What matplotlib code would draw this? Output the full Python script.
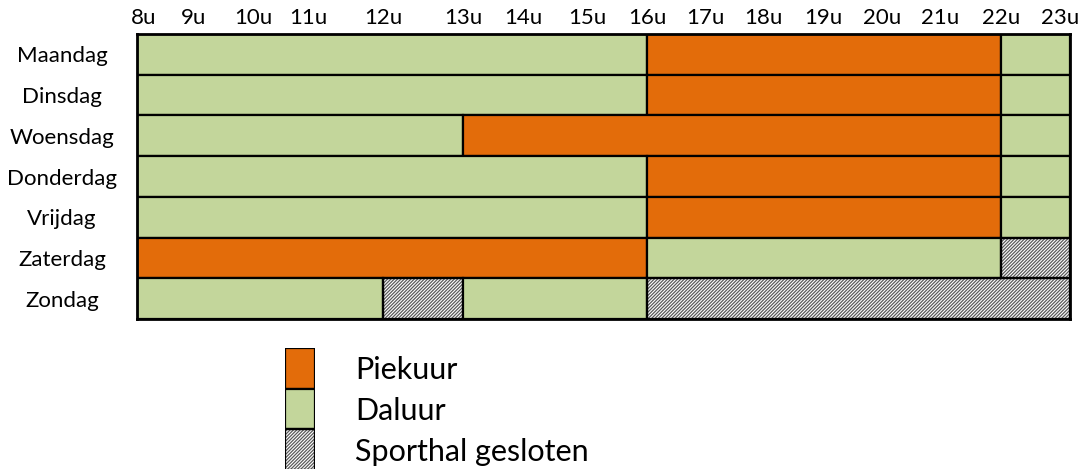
import numpy as np
import matplotlib
matplotlib.use("Agg")
import matplotlib.pyplot as plt
from matplotlib.scale import FuncScale
from matplotlib.transforms import ScaledTranslation

# ---------------- data ----------------
days = ["Maandag", "Dinsdag", "Woensdag", "Donderdag", "Vrijdag", "Zaterdag", "Zondag"]
hour_labels = ["8u", "9u", "10u", "11u", "12u", "13u", "14u", "15u",
               "16u", "17u", "18u", "19u", "20u", "21u", "22u", "23u"]
hours = list(range(8, 24))

# segments: day index, start hour, end hour, type
seg_day   = [0, 0, 0,   1, 1, 1,   2, 2, 2,   3, 3, 3,   4, 4, 4,   5, 5, 5,   6, 6, 6, 6]
seg_start = [8, 16, 22, 8, 16, 22, 8, 13, 22, 8, 16, 22, 8, 16, 22, 8, 16, 22, 8, 12, 13, 16]
seg_end   = [16, 22, 23, 16, 22, 23, 13, 22, 23, 16, 22, 23, 16, 22, 23, 16, 22, 23, 12, 13, 16, 23]
seg_type  = ["D", "P", "D", "D", "P", "D", "D", "P", "D", "D", "P", "D", "D", "P", "D",
             "P", "D", "C", "D", "C", "D", "C"]

legend_types  = ["P", "D", "C"]
legend_labels = ["Piekuur", "Daluur", "Sporthal gesloten"]

# ---------------- style ----------------
ORANGE = "#E36C0A"
GREEN = "#C3D69B"
HATCH_COL = "#5a5a5a"
HATCH = "//////////"
FONT = ["Lato", "DejaVu Sans"]
plt.rcParams["hatch.linewidth"] = 0.9

def style_for(t):
    if t == "P":
        return dict(color=ORANGE, hatch=None)
    if t == "D":
        return dict(color=GREEN, hatch=None)
    return dict(color="white", hatch=HATCH)

# column widths of the original table are not uniform: piecewise-linear x scale
KNOT_HOURS = np.array(hours, dtype=float)
KNOT_PIX = np.array([137, 194, 253, 308, 383, 463, 523, 587, 647,
                     705, 763, 823, 882, 940, 1001, 1070], dtype=float)

def fwd(x):
    return np.interp(x, KNOT_HOURS, KNOT_PIX)

def inv(p):
    return np.interp(p, KNOT_PIX, KNOT_HOURS)

W, H = 1084, 469
fig = plt.figure(figsize=(W / 100, H / 100), dpi=100)
ax = fig.add_axes([137 / W, (H - 319) / H, (1070 - 137) / W, (319 - 34) / H])
ax.set_xscale(FuncScale(ax, (fwd, inv)))

EDGE_LW = 1.6

def draw_box(axis, horizontal, pos, length, start, t):
    st = style_for(t)
    fn = axis.barh if horizontal else axis.bar
    kw = dict(left=start, height=1.0) if horizontal else dict(bottom=start, width=1.0)
    if st["hatch"]:
        fn(pos, length, color="white", edgecolor=HATCH_COL, linewidth=0,
           hatch=st["hatch"], zorder=2, **kw)
        fn(pos, length, fill=False, edgecolor="black", linewidth=EDGE_LW, zorder=3, **kw)
    else:
        fn(pos, length, color=st["color"], edgecolor="black", linewidth=EDGE_LW,
           zorder=3, **kw)

for d, s, e, t in zip(seg_day, seg_start, seg_end, seg_type):
    draw_box(ax, True, d, e - s, s, t)

ax.set_xlim(hours[0], hours[-1])
ax.set_ylim(len(days) - 0.5, -0.5)
for sp in ax.spines.values():
    sp.set_linewidth(2)
    sp.set_color("black")
    sp.set_zorder(5)

ax.xaxis.tick_top()
ax.set_xticks(hours)
ax.set_xticklabels(hour_labels, fontsize=16, family=FONT)
ax.tick_params(axis="x", length=0, pad=4)
ax.set_yticks(range(len(days)))
ax.set_yticklabels(days, fontsize=16, family=FONT, ha="center")
ax.tick_params(axis="y", length=0, pad=54)

# nudge first/last hour labels like in the original table
xt = ax.get_xticklabels()
xt[0].set_transform(xt[0].get_transform() + ScaledTranslation(7 / 100, 0, fig.dpi_scale_trans))
xt[-1].set_transform(xt[-1].get_transform() + ScaledTranslation(-10 / 100, 0, fig.dpi_scale_trans))

# ---------------- legend ----------------
lax = fig.add_axes([285 / W, (H - 470) / H, 30 / W, 122 / H])
for i, t in enumerate(legend_types):
    draw_box(lax, False, 0, 1, i, t)
    lax.text(1.83, i + 0.55, legend_labels[i], fontsize=22, family=FONT,
             ha="left", va="center", clip_on=False)
lax.set_xlim(-0.5, 0.5)
lax.set_ylim(3, 0)
lax.axis("off")

fig.savefig("out.png", dpi=100)
